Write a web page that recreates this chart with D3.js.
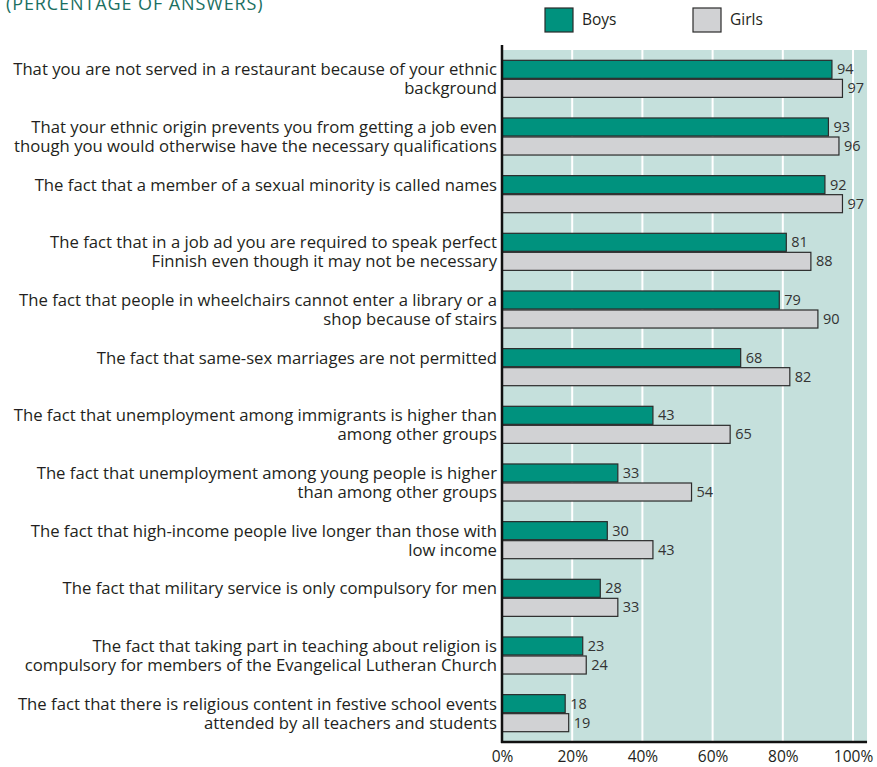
<!DOCTYPE html>
<html>
<head>
<meta charset="utf-8">
<script src="https://cdn.jsdelivr.net/npm/d3@7"></script>
<style>
  body { margin: 0; background: #fff; }
  svg { display: block; font-family: "Open Sans", sans-serif; }
</style>
</head>
<body>
<svg id="chart" width="877" height="767"></svg>
<script>
const categories = [
  ["That you are not served in a restaurant because of your ethnic", "background"],
  ["That your ethnic origin prevents you from getting a job even", "though you would otherwise have the necessary qualifications"],
  ["The fact that a member of a sexual minority is called names"],
  ["The fact that in a job ad you are required to speak perfect", "Finnish even though it may not be necessary"],
  ["The fact that people in wheelchairs cannot enter a library or a", "shop because of stairs"],
  ["The fact that same-sex marriages are not permitted"],
  ["The fact that unemployment among immigrants is higher than", "among other groups"],
  ["The fact that unemployment among young people is higher", "than among other groups"],
  ["The fact that high-income people live longer than those with", "low income"],
  ["The fact that military service is only compulsory for men"],
  ["The fact that taking part in teaching about religion is", "compulsory for members of the Evangelical Lutheran Church"],
  ["The fact that there is religious content in festive school events", "attended by all teachers and students"]
];
const boys  = [94, 93, 92, 81, 79, 68, 43, 33, 30, 28, 23, 18];
const girls = [97, 96, 97, 88, 90, 82, 65, 54, 43, 33, 24, 19];
const seriesNames = ["Boys", "Girls"];
const tickValues = [0, 20, 40, 60, 80, 100];

const colors = { Boys: "#00927e", Girls: "#d1d2d4" };
const svg = d3.select("#chart");

const plotLeft = 502, plotRight = 853, plotTop = 50, plotBottom = 742;
const x = d3.scaleLinear().domain([0, 100]).range([plotLeft, plotRight]);
const y = d3.scaleBand().domain(d3.range(categories.length)).range([plotTop, plotBottom]).paddingInner(0.34).paddingOuter(0.17);
const sub = d3.scaleBand().domain(seriesNames).range([0, y.bandwidth()]);

// title
svg.append("text").attr("x", 6).attr("y", 10)
  .attr("fill", "#1b6f62").attr("font-size", 18).attr("letter-spacing", 0.9)
  .text("(PERCENTAGE OF ANSWERS)");

// plot background
svg.append("rect").attr("x", plotLeft).attr("y", plotTop)
  .attr("width", x(104) - plotLeft).attr("height", plotBottom - plotTop)
  .attr("fill", "#c5e0dc");

// gridlines
svg.append("g").selectAll("line").data(tickValues.slice(1)).join("line")
  .attr("x1", d => x(d)).attr("x2", d => x(d))
  .attr("y1", plotTop).attr("y2", plotBottom)
  .attr("stroke", "#fff").attr("stroke-width", 2);

// bars
const groups = svg.append("g").selectAll("g").data(categories).join("g")
  .attr("transform", (d, i) => `translate(0,${y(i)})`);

groups.each(function(d, i) {
  const g = d3.select(this);
  const vals = [["Boys", boys[i]], ["Girls", girls[i]]];
  g.selectAll("rect").data(vals).join("rect")
    .attr("x", x(0)).attr("y", v => sub(v[0]) + 0.5)
    .attr("width", v => x(v[1]) - x(0)).attr("height", sub.bandwidth() - 1)
    .attr("fill", v => colors[v[0]])
    .attr("stroke", "#2b2b2b").attr("stroke-width", 1.2);
  g.selectAll("text.val").data(vals).join("text").attr("class", "val")
    .attr("x", v => x(v[1]) + 5).attr("y", v => sub(v[0]) + sub.bandwidth() / 2)
    .attr("dy", "0.35em").attr("font-size", 14.5).attr("fill", "#333")
    .text(v => v[1]);
  // category label, one line per bar row
  g.selectAll("text.cat").data(d).join("text").attr("class", "cat")
    .attr("x", plotLeft - 5)
    .attr("y", (t, j) => sub(seriesNames[j]) + sub.bandwidth() / 2)
    .attr("dy", "0.35em").attr("text-anchor", "end")
    .attr("font-size", 16.7).attr("fill", "#231f20")
    .text(t => t);
});

// axes
svg.append("line").attr("x1", plotLeft).attr("x2", plotLeft).attr("y1", plotTop - 5).attr("y2", plotBottom + 1)
  .attr("stroke", "#111").attr("stroke-width", 2.5);
svg.append("line").attr("x1", plotLeft - 1).attr("x2", x(104)).attr("y1", plotBottom).attr("y2", plotBottom)
  .attr("stroke", "#111").attr("stroke-width", 2.5);

const xAxis = d3.axisBottom(x).tickValues(tickValues).tickFormat(d => d + "%").tickSize(0).tickPadding(9);
svg.append("g").attr("transform", `translate(0,${plotBottom})`).call(xAxis)
  .call(g => g.select(".domain").remove())
  .call(g => g.selectAll("text").attr("font-size", 15.5).attr("fill", "#231f20").attr("font-family", "Open Sans, sans-serif"));

// legend
const legend = svg.append("g").selectAll("g").data(seriesNames).join("g")
  .attr("transform", (d, i) => `translate(${545 + i * 148},8)`);
legend.append("rect").attr("width", 28).attr("height", 24)
  .attr("fill", d => colors[d]).attr("stroke", "#2b2b2b").attr("stroke-width", 1.2);
legend.append("text").attr("x", 37).attr("y", 12).attr("dy", "0.35em")
  .attr("font-size", 15.5).attr("fill", "#231f20").text(d => d);
</script>
</body>
</html>
